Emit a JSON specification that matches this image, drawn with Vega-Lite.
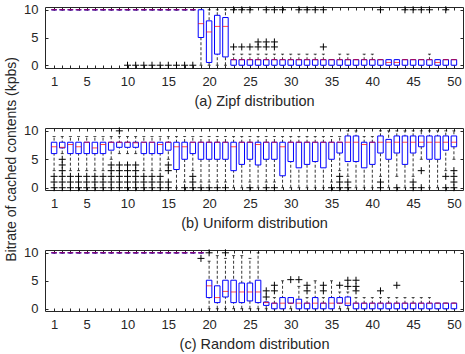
{
"$schema": "https://vega.github.io/schema/vega-lite/v6.json",
"padding": {"left": 5, "top": 3, "right": 0, "bottom": 0},
"background": "white",
"title": {"text": "Bitrate of cached contents (kpbs)", "orient": "left", "anchor": "middle", "fontSize": 14, "fontWeight": "normal", "font": "Liberation Sans", "color": "#262626", "offset": 4, "dx": 18},
"config": {
  "font": "Liberation Sans",
  "view": {"stroke": "#262626", "strokeWidth": 1},
  "concat": {"spacing": 15},
  "axis": {"labelFont": "Liberation Sans", "titleFont": "Liberation Sans", "labelFontSize": 13, "titleFontSize": 14.5, "titleFontWeight": "normal", "labelColor": "#262626", "titleColor": "#262626", "tickColor": "#262626", "domain": false, "grid": false, "tickSize": -3, "labelOverlap": false, "labelFlush": false}
},
"datasets": {
"boxes": [
{"p":"a","x":1,"q1":10,"m":10,"q3":10,"lo":10,"hi":10},
{"p":"a","x":2,"q1":10,"m":10,"q3":10,"lo":10,"hi":10},
{"p":"a","x":3,"q1":10,"m":10,"q3":10,"lo":10,"hi":10},
{"p":"a","x":4,"q1":10,"m":10,"q3":10,"lo":10,"hi":10},
{"p":"a","x":5,"q1":10,"m":10,"q3":10,"lo":10,"hi":10},
{"p":"a","x":6,"q1":10,"m":10,"q3":10,"lo":10,"hi":10},
{"p":"a","x":7,"q1":10,"m":10,"q3":10,"lo":10,"hi":10},
{"p":"a","x":8,"q1":10,"m":10,"q3":10,"lo":10,"hi":10},
{"p":"a","x":9,"q1":10,"m":10,"q3":10,"lo":10,"hi":10},
{"p":"a","x":10,"q1":10,"m":10,"q3":10,"lo":10,"hi":10},
{"p":"a","x":11,"q1":10,"m":10,"q3":10,"lo":10,"hi":10},
{"p":"a","x":12,"q1":10,"m":10,"q3":10,"lo":10,"hi":10},
{"p":"a","x":13,"q1":10,"m":10,"q3":10,"lo":10,"hi":10},
{"p":"a","x":14,"q1":10,"m":10,"q3":10,"lo":10,"hi":10},
{"p":"a","x":15,"q1":10,"m":10,"q3":10,"lo":10,"hi":10},
{"p":"a","x":16,"q1":10,"m":10,"q3":10,"lo":10,"hi":10},
{"p":"a","x":17,"q1":10,"m":10,"q3":10,"lo":10,"hi":10},
{"p":"a","x":18,"q1":10,"m":10,"q3":10,"lo":10,"hi":10},
{"p":"a","x":19,"q1":5,"m":7.5,"q3":10,"lo":0,"hi":10},
{"p":"a","x":20,"q1":0.5,"m":6,"q3":8,"lo":0,"hi":10},
{"p":"a","x":21,"q1":2,"m":7,"q3":9,"lo":0,"hi":10},
{"p":"a","x":22,"q1":1.5,"m":7,"q3":8.6,"lo":0,"hi":10},
{"p":"a","x":23,"q1":0,"m":1,"q3":1,"lo":0,"hi":2},
{"p":"a","x":24,"q1":0,"m":1,"q3":1,"lo":0,"hi":2},
{"p":"a","x":25,"q1":0,"m":1,"q3":1,"lo":0,"hi":2},
{"p":"a","x":26,"q1":0,"m":1,"q3":1,"lo":0,"hi":2},
{"p":"a","x":27,"q1":0,"m":1,"q3":1,"lo":0,"hi":2},
{"p":"a","x":28,"q1":0,"m":1,"q3":1,"lo":0,"hi":2},
{"p":"a","x":29,"q1":0,"m":1,"q3":1,"lo":0,"hi":2},
{"p":"a","x":30,"q1":0,"m":1,"q3":1,"lo":0,"hi":2},
{"p":"a","x":31,"q1":0,"m":1,"q3":1,"lo":0,"hi":2},
{"p":"a","x":32,"q1":0,"m":1,"q3":1,"lo":0,"hi":2},
{"p":"a","x":33,"q1":0,"m":1,"q3":1,"lo":0,"hi":2},
{"p":"a","x":34,"q1":0,"m":1,"q3":1,"lo":0,"hi":2},
{"p":"a","x":35,"q1":0,"m":1,"q3":1,"lo":0,"hi":1},
{"p":"a","x":36,"q1":0,"m":1,"q3":1,"lo":0,"hi":2},
{"p":"a","x":37,"q1":0,"m":1,"q3":1,"lo":0,"hi":2},
{"p":"a","x":38,"q1":0,"m":1,"q3":1,"lo":0,"hi":1},
{"p":"a","x":39,"q1":0,"m":1,"q3":1,"lo":0,"hi":2},
{"p":"a","x":40,"q1":0,"m":1,"q3":1,"lo":0,"hi":2},
{"p":"a","x":41,"q1":0,"m":1,"q3":1,"lo":0,"hi":1},
{"p":"a","x":42,"q1":0,"m":0.5,"q3":1,"lo":0,"hi":1},
{"p":"a","x":43,"q1":0,"m":0.5,"q3":1,"lo":0,"hi":1},
{"p":"a","x":44,"q1":0,"m":1,"q3":1,"lo":0,"hi":1},
{"p":"a","x":45,"q1":0,"m":1,"q3":1,"lo":0,"hi":1},
{"p":"a","x":46,"q1":0,"m":1,"q3":1,"lo":0,"hi":1},
{"p":"a","x":47,"q1":0,"m":1,"q3":1,"lo":0,"hi":2},
{"p":"a","x":48,"q1":0,"m":0.5,"q3":1,"lo":0,"hi":1},
{"p":"a","x":49,"q1":0,"m":1,"q3":1,"lo":0,"hi":1},
{"p":"a","x":50,"q1":0,"m":1,"q3":1,"lo":0,"hi":1},
{"p":"b","x":1,"q1":6,"m":7.2,"q3":8,"lo":3,"hi":9},
{"p":"b","x":2,"q1":7,"m":7.1,"q3":8,"lo":6,"hi":9},
{"p":"b","x":3,"q1":6,"m":7.6,"q3":8,"lo":3,"hi":9},
{"p":"b","x":4,"q1":6,"m":7.2,"q3":8,"lo":3,"hi":9},
{"p":"b","x":5,"q1":6,"m":8,"q3":8,"lo":3,"hi":9},
{"p":"b","x":6,"q1":6,"m":7,"q3":8,"lo":3,"hi":9},
{"p":"b","x":7,"q1":6,"m":7.6,"q3":8,"lo":3,"hi":9},
{"p":"b","x":8,"q1":6.6,"m":8,"q3":8,"lo":5,"hi":9},
{"p":"b","x":9,"q1":7.1,"m":8,"q3":8,"lo":6,"hi":9},
{"p":"b","x":10,"q1":7.1,"m":8,"q3":8,"lo":6,"hi":9},
{"p":"b","x":11,"q1":7.1,"m":7.9,"q3":8,"lo":6,"hi":9},
{"p":"b","x":12,"q1":6,"m":8,"q3":8,"lo":3,"hi":9},
{"p":"b","x":13,"q1":6,"m":8,"q3":8,"lo":3,"hi":9},
{"p":"b","x":14,"q1":6,"m":7.6,"q3":8,"lo":3,"hi":9},
{"p":"b","x":15,"q1":6.6,"m":8,"q3":8,"lo":5,"hi":9},
{"p":"b","x":16,"q1":3.2,"m":7.2,"q3":8,"lo":0,"hi":9},
{"p":"b","x":17,"q1":5,"m":7.2,"q3":8,"lo":1,"hi":9},
{"p":"b","x":18,"q1":6,"m":8,"q3":8,"lo":3,"hi":9},
{"p":"b","x":19,"q1":5,"m":8,"q3":8,"lo":1,"hi":9},
{"p":"b","x":20,"q1":5,"m":8,"q3":8,"lo":1,"hi":9},
{"p":"b","x":21,"q1":5,"m":8,"q3":8,"lo":1,"hi":9},
{"p":"b","x":22,"q1":5,"m":8,"q3":8,"lo":1,"hi":9},
{"p":"b","x":23,"q1":3,"m":7.2,"q3":8,"lo":0,"hi":9},
{"p":"b","x":24,"q1":4.1,"m":8,"q3":8,"lo":0,"hi":9},
{"p":"b","x":25,"q1":5,"m":8,"q3":8,"lo":1,"hi":9},
{"p":"b","x":26,"q1":4,"m":7.6,"q3":8,"lo":0,"hi":9},
{"p":"b","x":27,"q1":5,"m":8,"q3":8,"lo":1,"hi":9},
{"p":"b","x":28,"q1":5,"m":8,"q3":8,"lo":1,"hi":9},
{"p":"b","x":29,"q1":2.1,"m":7.2,"q3":8,"lo":0,"hi":9},
{"p":"b","x":30,"q1":4.6,"m":8,"q3":8,"lo":0,"hi":9},
{"p":"b","x":31,"q1":3.5,"m":8,"q3":8,"lo":0,"hi":9},
{"p":"b","x":32,"q1":4.1,"m":8,"q3":8,"lo":0,"hi":9},
{"p":"b","x":33,"q1":4.6,"m":8,"q3":8,"lo":0,"hi":9},
{"p":"b","x":34,"q1":3.5,"m":8,"q3":8,"lo":0,"hi":9},
{"p":"b","x":35,"q1":5,"m":8,"q3":8,"lo":1,"hi":9},
{"p":"b","x":36,"q1":6.1,"m":8,"q3":8,"lo":3,"hi":9},
{"p":"b","x":37,"q1":4.6,"m":8,"q3":9.1,"lo":2,"hi":10},
{"p":"b","x":38,"q1":4.6,"m":8,"q3":9.1,"lo":0,"hi":10},
{"p":"b","x":39,"q1":3.5,"m":7.6,"q3":8,"lo":0,"hi":9},
{"p":"b","x":40,"q1":4.1,"m":8,"q3":8,"lo":0,"hi":9},
{"p":"b","x":41,"q1":6.1,"m":8,"q3":9.1,"lo":2,"hi":10},
{"p":"b","x":42,"q1":5,"m":8,"q3":8.5,"lo":0,"hi":10},
{"p":"b","x":43,"q1":6.1,"m":8,"q3":9.1,"lo":2,"hi":10},
{"p":"b","x":44,"q1":4.1,"m":8,"q3":9.1,"lo":0,"hi":10},
{"p":"b","x":45,"q1":6.1,"m":8,"q3":9.1,"lo":2,"hi":10},
{"p":"b","x":46,"q1":7.2,"m":8,"q3":9.1,"lo":5,"hi":10},
{"p":"b","x":47,"q1":5,"m":8,"q3":9.1,"lo":0,"hi":10},
{"p":"b","x":48,"q1":5,"m":8,"q3":9.1,"lo":0,"hi":10},
{"p":"b","x":49,"q1":6.6,"m":8,"q3":9.1,"lo":3,"hi":10},
{"p":"b","x":50,"q1":7.2,"m":8,"q3":9.1,"lo":5,"hi":10},
{"p":"c","x":1,"q1":10,"m":10,"q3":10,"lo":10,"hi":10},
{"p":"c","x":2,"q1":10,"m":10,"q3":10,"lo":10,"hi":10},
{"p":"c","x":3,"q1":10,"m":10,"q3":10,"lo":10,"hi":10},
{"p":"c","x":4,"q1":10,"m":10,"q3":10,"lo":10,"hi":10},
{"p":"c","x":5,"q1":10,"m":10,"q3":10,"lo":10,"hi":10},
{"p":"c","x":6,"q1":10,"m":10,"q3":10,"lo":10,"hi":10},
{"p":"c","x":7,"q1":10,"m":10,"q3":10,"lo":10,"hi":10},
{"p":"c","x":8,"q1":10,"m":10,"q3":10,"lo":10,"hi":10},
{"p":"c","x":9,"q1":10,"m":10,"q3":10,"lo":10,"hi":10},
{"p":"c","x":10,"q1":10,"m":10,"q3":10,"lo":10,"hi":10},
{"p":"c","x":11,"q1":10,"m":10,"q3":10,"lo":10,"hi":10},
{"p":"c","x":12,"q1":10,"m":10,"q3":10,"lo":10,"hi":10},
{"p":"c","x":13,"q1":10,"m":10,"q3":10,"lo":10,"hi":10},
{"p":"c","x":14,"q1":10,"m":10,"q3":10,"lo":10,"hi":10},
{"p":"c","x":15,"q1":10,"m":10,"q3":10,"lo":10,"hi":10},
{"p":"c","x":16,"q1":10,"m":10,"q3":10,"lo":10,"hi":10},
{"p":"c","x":17,"q1":10,"m":10,"q3":10,"lo":10,"hi":10},
{"p":"c","x":18,"q1":10,"m":10,"q3":10,"lo":10,"hi":10},
{"p":"c","x":19,"q1":10,"m":10,"q3":10,"lo":10,"hi":10},
{"p":"c","x":20,"q1":2,"m":4.1,"q3":5.1,"lo":0,"hi":8.5},
{"p":"c","x":21,"q1":1.1,"m":2,"q3":4.1,"lo":0,"hi":9.5},
{"p":"c","x":22,"q1":2.1,"m":3.1,"q3":5.1,"lo":0,"hi":9},
{"p":"c","x":23,"q1":1.1,"m":3,"q3":5.1,"lo":0,"hi":9.5},
{"p":"c","x":24,"q1":1.1,"m":3,"q3":4.6,"lo":0,"hi":9.5},
{"p":"c","x":25,"q1":1.4,"m":3,"q3":4.6,"lo":0,"hi":9},
{"p":"c","x":26,"q1":1.1,"m":3,"q3":5.1,"lo":0,"hi":10},
{"p":"c","x":27,"q1":0.6,"m":1.1,"q3":1.2,"lo":0,"hi":1.2},
{"p":"c","x":28,"q1":0,"m":1,"q3":1,"lo":0,"hi":2},
{"p":"c","x":29,"q1":0,"m":1,"q3":2,"lo":0,"hi":5},
{"p":"c","x":30,"q1":1,"m":1,"q3":2,"lo":0,"hi":2},
{"p":"c","x":31,"q1":0,"m":1,"q3":1.7,"lo":0,"hi":4},
{"p":"c","x":32,"q1":0,"m":1,"q3":1,"lo":0,"hi":2},
{"p":"c","x":33,"q1":0,"m":1,"q3":2,"lo":0,"hi":5},
{"p":"c","x":34,"q1":0,"m":1,"q3":1,"lo":0,"hi":2},
{"p":"c","x":35,"q1":0,"m":1,"q3":2,"lo":0,"hi":5},
{"p":"c","x":36,"q1":1,"m":1,"q3":2,"lo":0,"hi":3},
{"p":"c","x":37,"q1":0.6,"m":1,"q3":2.1,"lo":0,"hi":3},
{"p":"c","x":38,"q1":0,"m":1,"q3":1,"lo":0,"hi":2},
{"p":"c","x":39,"q1":0,"m":1,"q3":1,"lo":0,"hi":2},
{"p":"c","x":40,"q1":0,"m":1,"q3":1,"lo":0,"hi":2},
{"p":"c","x":41,"q1":0,"m":1,"q3":1,"lo":0,"hi":2},
{"p":"c","x":42,"q1":0,"m":1,"q3":1,"lo":0,"hi":2},
{"p":"c","x":43,"q1":0,"m":1,"q3":1,"lo":0,"hi":2},
{"p":"c","x":44,"q1":0,"m":1,"q3":1,"lo":0,"hi":2},
{"p":"c","x":45,"q1":0,"m":1,"q3":1,"lo":0,"hi":2},
{"p":"c","x":46,"q1":0,"m":1,"q3":1,"lo":0,"hi":2},
{"p":"c","x":47,"q1":0,"m":1,"q3":1,"lo":0,"hi":2},
{"p":"c","x":48,"q1":0,"m":1,"q3":1,"lo":0,"hi":1},
{"p":"c","x":49,"q1":0,"m":1,"q3":1,"lo":0,"hi":1},
{"p":"c","x":50,"q1":0,"m":1,"q3":1,"lo":0,"hi":1}
],
"outs": [
{"p":"a","x":10,"v":0},{"p":"a","x":11,"v":0},{"p":"a","x":12,"v":0},{"p":"a","x":13,"v":0},{"p":"a","x":14,"v":0},{"p":"a","x":15,"v":0},{"p":"a","x":16,"v":0},{"p":"a","x":17,"v":0},{"p":"a","x":18,"v":0},
{"p":"a","x":23,"v":10},{"p":"a","x":23,"v":3.3},
{"p":"a","x":24,"v":10},{"p":"a","x":24,"v":3.3},
{"p":"a","x":25,"v":10},{"p":"a","x":25,"v":3.3},
{"p":"a","x":26,"v":4.2},{"p":"a","x":26,"v":3.3},
{"p":"a","x":27,"v":10},{"p":"a","x":27,"v":4.2},{"p":"a","x":27,"v":3.3},
{"p":"a","x":28,"v":10},{"p":"a","x":28,"v":4.2},{"p":"a","x":28,"v":3.3},
{"p":"a","x":29,"v":10},
{"p":"a","x":31,"v":10},{"p":"a","x":32,"v":10},{"p":"a","x":33,"v":10},
{"p":"a","x":34,"v":10},{"p":"a","x":34,"v":3.3},
{"p":"a","x":41,"v":10},{"p":"a","x":44,"v":10},{"p":"a","x":45,"v":10},{"p":"a","x":46,"v":10},{"p":"a","x":47,"v":10},{"p":"a","x":49,"v":10},
{"p":"b","x":1,"v":2},{"p":"b","x":1,"v":1},{"p":"b","x":1,"v":0},
{"p":"b","x":2,"v":5},{"p":"b","x":2,"v":4},{"p":"b","x":2,"v":3},{"p":"b","x":2,"v":2},{"p":"b","x":2,"v":1},{"p":"b","x":2,"v":0},
{"p":"b","x":3,"v":2},{"p":"b","x":3,"v":1},{"p":"b","x":3,"v":0},
{"p":"b","x":4,"v":2},{"p":"b","x":4,"v":1},{"p":"b","x":4,"v":0},
{"p":"b","x":5,"v":2},{"p":"b","x":5,"v":1},{"p":"b","x":5,"v":0},
{"p":"b","x":6,"v":2},{"p":"b","x":6,"v":1},{"p":"b","x":6,"v":0},
{"p":"b","x":7,"v":2},{"p":"b","x":7,"v":1},{"p":"b","x":7,"v":0},
{"p":"b","x":8,"v":4},{"p":"b","x":8,"v":3},{"p":"b","x":8,"v":2},{"p":"b","x":8,"v":1},{"p":"b","x":8,"v":0},
{"p":"b","x":9,"v":10},{"p":"b","x":9,"v":4},{"p":"b","x":9,"v":3},{"p":"b","x":9,"v":2},{"p":"b","x":9,"v":1},{"p":"b","x":9,"v":0},
{"p":"b","x":10,"v":4},{"p":"b","x":10,"v":3},{"p":"b","x":10,"v":2},{"p":"b","x":10,"v":1},{"p":"b","x":10,"v":0},
{"p":"b","x":11,"v":4},{"p":"b","x":11,"v":3},{"p":"b","x":11,"v":2},{"p":"b","x":11,"v":1},{"p":"b","x":11,"v":0},
{"p":"b","x":12,"v":2},{"p":"b","x":12,"v":1},{"p":"b","x":12,"v":0},
{"p":"b","x":13,"v":2},{"p":"b","x":13,"v":1},{"p":"b","x":13,"v":0},
{"p":"b","x":14,"v":2},{"p":"b","x":14,"v":1},{"p":"b","x":14,"v":0},
{"p":"b","x":15,"v":4},{"p":"b","x":15,"v":3},{"p":"b","x":15,"v":1},{"p":"b","x":15,"v":0},
{"p":"b","x":17,"v":0},
{"p":"b","x":18,"v":2},{"p":"b","x":18,"v":1},{"p":"b","x":18,"v":0},
{"p":"b","x":19,"v":0},{"p":"b","x":20,"v":0},{"p":"b","x":21,"v":0},{"p":"b","x":22,"v":0},
{"p":"b","x":25,"v":0},{"p":"b","x":27,"v":0},{"p":"b","x":28,"v":0},{"p":"b","x":35,"v":0},
{"p":"b","x":36,"v":2},{"p":"b","x":36,"v":1},{"p":"b","x":36,"v":0},
{"p":"b","x":37,"v":1},{"p":"b","x":37,"v":0},
{"p":"b","x":41,"v":1},{"p":"b","x":41,"v":0},
{"p":"b","x":43,"v":0},
{"p":"b","x":45,"v":1},{"p":"b","x":45,"v":0},
{"p":"b","x":46,"v":3},{"p":"b","x":46,"v":0},
{"p":"b","x":49,"v":2},{"p":"b","x":49,"v":0},
{"p":"b","x":50,"v":3},{"p":"b","x":50,"v":2},{"p":"b","x":50,"v":1},{"p":"b","x":50,"v":0},
{"p":"c","x":19,"v":9},
{"p":"c","x":20,"v":10},{"p":"c","x":22,"v":10},
{"p":"c","x":27,"v":3.2},{"p":"c","x":27,"v":2.1},
{"p":"c","x":28,"v":4.2},{"p":"c","x":28,"v":3.2},
{"p":"c","x":30,"v":5.2},{"p":"c","x":31,"v":5.2},
{"p":"c","x":32,"v":4.2},{"p":"c","x":32,"v":3.2},
{"p":"c","x":34,"v":4.2},{"p":"c","x":34,"v":3.2},
{"p":"c","x":36,"v":4.2},
{"p":"c","x":37,"v":5.1},{"p":"c","x":37,"v":4},
{"p":"c","x":38,"v":5.1},{"p":"c","x":38,"v":4},{"p":"c","x":38,"v":3.2},
{"p":"c","x":41,"v":3.2},{"p":"c","x":43,"v":4.2}
]
},
"vconcat": [
{
 "width": 418, "height": 61,
 "resolve": {"axis": {"x": "independent", "y": "independent"}},
 "layer": [
  {"data": {"name": "boxes"}, "transform": [{"filter": "datum.p == 'a'"}],
   "mark": {"type": "rule", "color": "black", "strokeWidth": 0.8, "strokeDash": [3, 2]},
   "encoding": {
     "x": {"field": "x", "type": "quantitative", "scale": {"domain": [0.5, 50.5], "nice": false, "zero": false},
           "axis": {"values": [1,2,3,4,5,6,7,8,9,10,11,12,13,14,15,16,17,18,19,20,21,22,23,24,25,26,27,28,29,30,31,32,33,34,35,36,37,38,39,40,41,42,43,44,45,46,47,48,49,50], "labelExpr": "indexof([1,5,10,15,20,25,30,35,40,45,50], datum.value) >= 0 ? datum.label : ''", "labelPadding": 10, "title": "(a) Zipf distribution", "titlePadding": 6.5}},
     "y": {"field": "lo", "type": "quantitative", "scale": {"domain": [-0.5, 10.5], "nice": false, "zero": false},
           "axis": {"values": [0, 5, 10], "labelPadding": 10, "title": null}},
     "y2": {"field": "hi"}}},
  {"data": {"name": "boxes"}, "transform": [{"filter": "datum.p == 'a'"}],
   "mark": {"type": "tick", "orient": "horizontal", "size": 3, "thickness": 1, "color": "black"},
   "encoding": {
     "x": {"field": "x", "type": "quantitative", "axis": {"orient": "top", "values": [1,2,3,4,5,6,7,8,9,10,11,12,13,14,15,16,17,18,19,20,21,22,23,24,25,26,27,28,29,30,31,32,33,34,35,36,37,38,39,40,41,42,43,44,45,46,47,48,49,50], "labels": false, "title": null}},
     "y": {"field": "hi", "type": "quantitative", "axis": {"orient": "right", "values": [0, 5, 10], "labels": false, "title": null}}}},
  {"data": {"name": "boxes"}, "transform": [{"filter": "datum.p == 'a'"}],
   "mark": {"type": "tick", "orient": "horizontal", "size": 3, "thickness": 1, "color": "black"},
   "encoding": {"x": {"field": "x", "type": "quantitative", "axis": null}, "y": {"field": "lo", "type": "quantitative", "axis": null}}},
  {"data": {"name": "boxes"}, "transform": [{"filter": "datum.p == 'a'"}],
   "mark": {"type": "bar", "width": 5.5, "fill": "white", "stroke": "#0000ff", "strokeWidth": 1},
   "encoding": {"x": {"field": "x", "type": "quantitative", "axis": null}, "y": {"field": "q1", "type": "quantitative", "axis": null}, "y2": {"field": "q3"}}},
  {"data": {"name": "boxes"}, "transform": [{"filter": "datum.p == 'a'"}],
   "mark": {"type": "tick", "orient": "horizontal", "size": 5.5, "thickness": 1, "color": "#ff0000"},
   "encoding": {"x": {"field": "x", "type": "quantitative", "axis": null}, "y": {"field": "m", "type": "quantitative", "axis": null}}},
  {"data": {"name": "outs"}, "transform": [{"filter": "datum.p == 'a'"}],
   "mark": {"type": "point", "shape": "M-1,0H1M0,-1V1", "size": 49, "filled": false, "stroke": "black", "strokeWidth": 1, "opacity": 1},
   "encoding": {"x": {"field": "x", "type": "quantitative", "axis": null}, "y": {"field": "v", "type": "quantitative", "axis": null}}}
 ]
},
{
 "width": 418, "height": 62,
 "resolve": {"axis": {"x": "independent", "y": "independent"}},
 "layer": [
  {"data": {"name": "boxes"}, "transform": [{"filter": "datum.p == 'b'"}],
   "mark": {"type": "rule", "color": "black", "strokeWidth": 0.8, "strokeDash": [3, 2]},
   "encoding": {
     "x": {"field": "x", "type": "quantitative", "scale": {"domain": [0.5, 50.5], "nice": false, "zero": false},
           "axis": {"values": [1,2,3,4,5,6,7,8,9,10,11,12,13,14,15,16,17,18,19,20,21,22,23,24,25,26,27,28,29,30,31,32,33,34,35,36,37,38,39,40,41,42,43,44,45,46,47,48,49,50], "labelExpr": "indexof([1,5,10,15,20,25,30,35,40,45,50], datum.value) >= 0 ? datum.label : ''", "labelPadding": 10, "title": "(b) Uniform distribution", "titlePadding": 6.5}},
     "y": {"field": "lo", "type": "quantitative", "scale": {"domain": [-0.4, 10.5], "nice": false, "zero": false},
           "axis": {"values": [0, 5, 10], "labelPadding": 10, "title": null}},
     "y2": {"field": "hi"}}},
  {"data": {"name": "boxes"}, "transform": [{"filter": "datum.p == 'b'"}],
   "mark": {"type": "tick", "orient": "horizontal", "size": 3, "thickness": 1, "color": "black"},
   "encoding": {
     "x": {"field": "x", "type": "quantitative", "axis": {"orient": "top", "values": [1,2,3,4,5,6,7,8,9,10,11,12,13,14,15,16,17,18,19,20,21,22,23,24,25,26,27,28,29,30,31,32,33,34,35,36,37,38,39,40,41,42,43,44,45,46,47,48,49,50], "labels": false, "title": null}},
     "y": {"field": "hi", "type": "quantitative", "axis": {"orient": "right", "values": [0, 5, 10], "labels": false, "title": null}}}},
  {"data": {"name": "boxes"}, "transform": [{"filter": "datum.p == 'b'"}],
   "mark": {"type": "tick", "orient": "horizontal", "size": 3, "thickness": 1, "color": "black"},
   "encoding": {"x": {"field": "x", "type": "quantitative", "axis": null}, "y": {"field": "lo", "type": "quantitative", "axis": null}}},
  {"data": {"name": "boxes"}, "transform": [{"filter": "datum.p == 'b'"}],
   "mark": {"type": "bar", "width": 5.5, "fill": "white", "stroke": "#0000ff", "strokeWidth": 1},
   "encoding": {"x": {"field": "x", "type": "quantitative", "axis": null}, "y": {"field": "q1", "type": "quantitative", "axis": null}, "y2": {"field": "q3"}}},
  {"data": {"name": "boxes"}, "transform": [{"filter": "datum.p == 'b'"}],
   "mark": {"type": "tick", "orient": "horizontal", "size": 5.5, "thickness": 1, "color": "#ff0000"},
   "encoding": {"x": {"field": "x", "type": "quantitative", "axis": null}, "y": {"field": "m", "type": "quantitative", "axis": null}}},
  {"data": {"name": "outs"}, "transform": [{"filter": "datum.p == 'b'"}],
   "mark": {"type": "point", "shape": "M-1,0H1M0,-1V1", "size": 49, "filled": false, "stroke": "black", "strokeWidth": 1, "opacity": 1},
   "encoding": {"x": {"field": "x", "type": "quantitative", "axis": null}, "y": {"field": "v", "type": "quantitative", "axis": null}}}
 ]
},
{
 "width": 418, "height": 61,
 "resolve": {"axis": {"x": "independent", "y": "independent"}},
 "layer": [
  {"data": {"name": "boxes"}, "transform": [{"filter": "datum.p == 'c'"}],
   "mark": {"type": "rule", "color": "black", "strokeWidth": 0.8, "strokeDash": [3, 2]},
   "encoding": {
     "x": {"field": "x", "type": "quantitative", "scale": {"domain": [0.5, 50.5], "nice": false, "zero": false},
           "axis": {"values": [1,2,3,4,5,6,7,8,9,10,11,12,13,14,15,16,17,18,19,20,21,22,23,24,25,26,27,28,29,30,31,32,33,34,35,36,37,38,39,40,41,42,43,44,45,46,47,48,49,50], "labelExpr": "indexof([1,5,10,15,20,25,30,35,40,45,50], datum.value) >= 0 ? datum.label : ''", "labelPadding": 10, "title": "(c) Random distribution", "titlePadding": 6.5}},
     "y": {"field": "lo", "type": "quantitative", "scale": {"domain": [-0.4, 10.5], "nice": false, "zero": false},
           "axis": {"values": [0, 5, 10], "labelPadding": 10, "title": null}},
     "y2": {"field": "hi"}}},
  {"data": {"name": "boxes"}, "transform": [{"filter": "datum.p == 'c'"}],
   "mark": {"type": "tick", "orient": "horizontal", "size": 3, "thickness": 1, "color": "black"},
   "encoding": {
     "x": {"field": "x", "type": "quantitative", "axis": {"orient": "top", "values": [1,2,3,4,5,6,7,8,9,10,11,12,13,14,15,16,17,18,19,20,21,22,23,24,25,26,27,28,29,30,31,32,33,34,35,36,37,38,39,40,41,42,43,44,45,46,47,48,49,50], "labels": false, "title": null}},
     "y": {"field": "hi", "type": "quantitative", "axis": {"orient": "right", "values": [0, 5, 10], "labels": false, "title": null}}}},
  {"data": {"name": "boxes"}, "transform": [{"filter": "datum.p == 'c'"}],
   "mark": {"type": "tick", "orient": "horizontal", "size": 3, "thickness": 1, "color": "black"},
   "encoding": {"x": {"field": "x", "type": "quantitative", "axis": null}, "y": {"field": "lo", "type": "quantitative", "axis": null}}},
  {"data": {"name": "boxes"}, "transform": [{"filter": "datum.p == 'c'"}],
   "mark": {"type": "bar", "width": 5.5, "fill": "white", "stroke": "#0000ff", "strokeWidth": 1},
   "encoding": {"x": {"field": "x", "type": "quantitative", "axis": null}, "y": {"field": "q1", "type": "quantitative", "axis": null}, "y2": {"field": "q3"}}},
  {"data": {"name": "boxes"}, "transform": [{"filter": "datum.p == 'c'"}],
   "mark": {"type": "tick", "orient": "horizontal", "size": 5.5, "thickness": 1, "color": "#ff0000"},
   "encoding": {"x": {"field": "x", "type": "quantitative", "axis": null}, "y": {"field": "m", "type": "quantitative", "axis": null}}},
  {"data": {"name": "outs"}, "transform": [{"filter": "datum.p == 'c'"}],
   "mark": {"type": "point", "shape": "M-1,0H1M0,-1V1", "size": 49, "filled": false, "stroke": "black", "strokeWidth": 1, "opacity": 1},
   "encoding": {"x": {"field": "x", "type": "quantitative", "axis": null}, "y": {"field": "v", "type": "quantitative", "axis": null}}}
 ]
}
]
}
